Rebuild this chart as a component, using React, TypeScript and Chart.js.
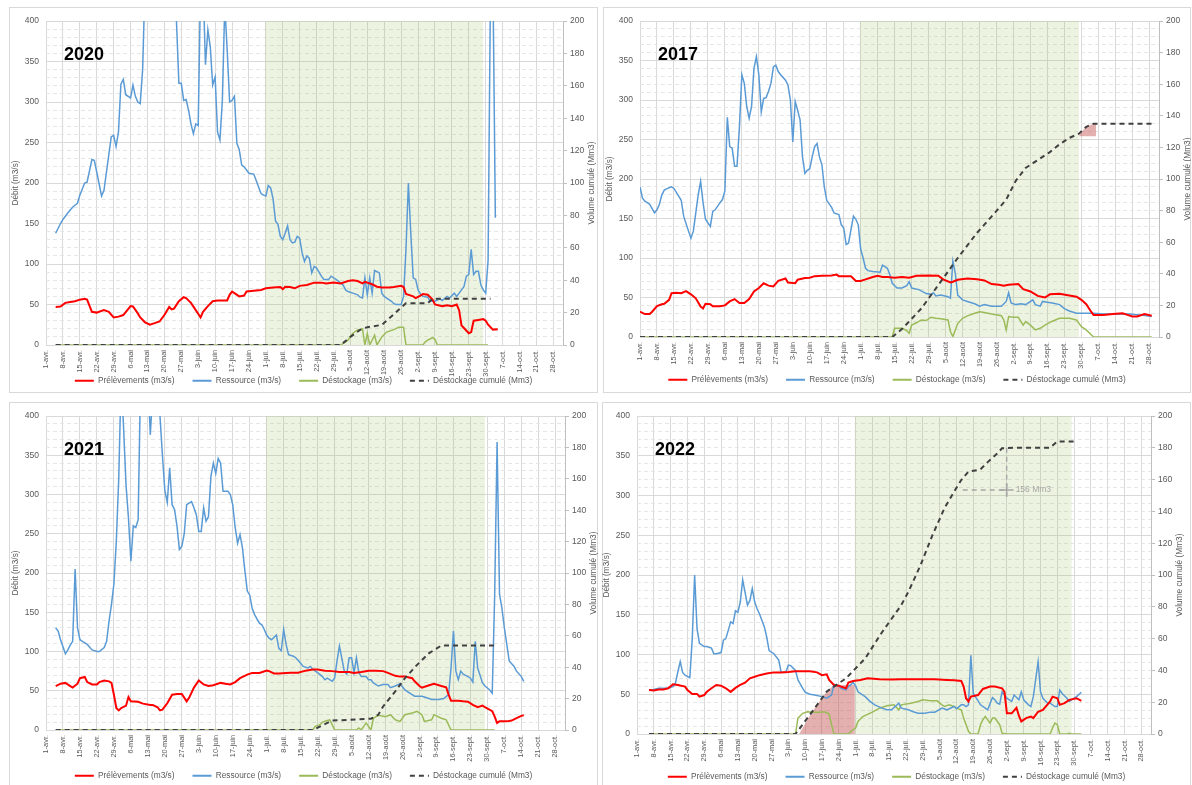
import React, { useEffect, useRef } from 'react';
import { Chart, registerables } from 'chart.js';

Chart.register(...registerables);

type P = [number, number][];

// ---------- axis ticks ----------
const tickDays = [0, 7, 14, 21, 28, 35, 42, 49, 56, 63, 70, 77, 84, 91, 98, 105, 112, 119, 126, 133, 140, 147, 154, 161, 168, 175, 182, 189, 196, 203, 210];
const tickLabels = ['1-avr.', '8-avr.', '15-avr.', '22-avr.', '29-avr.', '6-mai', '13-mai', '20-mai', '27-mai', '3-juin', '10-juin', '17-juin', '24-juin', '1-juil.', '8-juil.', '15-juil.', '22-juil.', '29-juil.', '5-août', '12-août', '19-août', '26-août', '2-sept.', '9-sept.', '16-sept.', '23-sept.', '30-sept.', '7-oct.', '14-oct.', '21-oct.', '28-oct.'];
const debitTicks = [0, 10, 20, 30, 40, 50, 60, 70, 80, 90, 100, 110, 120, 130, 140, 150, 160, 170, 180, 190, 200, 210, 220, 230, 240, 250, 260, 270, 280, 290, 300, 310, 320, 330, 340, 350, 360, 370, 380, 390, 400];
const seriesNames = ['Prélèvements (m3/s)', 'Ressource (m3/s)', 'Déstockage (m3/s)', 'Déstockage cumulé (Mm3)'];

// ---------- 2020 ----------
const prel2020: P = [[4,47],[6,47.5],[8,52],[10,53],[12,54],[14,56],[16,57],[17,56],[19,41],[21,40],[22,41],[24,43],[26,41],[28,34],[30,35],[32,37],[35,48],[36,47.5],[38,39],[39,34],[41,28],[43,25],[45,27],[47,29],[49,37],[51,47],[52,44],[53,45],[55,54],[57,59],[58,58],[60,52],[62,43],[64,34],[65,41],[67,48],[69,54],[71,55],[75,55],[76,62],[77,66],[78,64],[80,60],[82,61],[83,66],[86,67],[89,68],[91,70],[94,71],[97,71.5],[98,69],[99,72],[101,71.5],[103,70],[105,73],[108,74],[111,77],[114,77],[116,76],[119,77],[122,76],[125,79],[127,80],[129,79],[131,76],[132,78],[135,75],[137,72],[139,71],[142,71],[144,71.5],[147,73],[148,71.5],[149,63],[152,60],[153,58],[155,61],[156,63],[158,62],[160,56],[161,50],[164,48],[166,49],[168,48],[170,50],[171,43],[172,24],[173,21],[175,14.5],[176,16],[177,30],[179,31],[181,32],[182,30],[183,25],[185,19],[187,19.5]];
const res2020: P = [[4,138],[6,150],[7,155],[9,163],[11,170],[13,175],[14,185],[16,200],[17,201],[19,229],[20,228],[23,184],[24,191],[27,257],[28,259],[29,245],[30,263],[31,322],[32,328],[33,309],[35,305],[36,321],[37,307],[38,300],[39,298],[40,340],[41,450],[45,480],[50,470],[53,440],[54,400],[55,323],[56,323],[57,302],[58,303],[59,290],[60,273],[61,261],[62,273],[63,271],[64,450],[65,450],[66,346],[67,389],[68,368],[69,321],[70,331],[71,263],[72,253],[73,302],[74,420],[75,364],[76,300],[77,302],[78,307],[79,249],[80,241],[81,222],[82,220],[84,212],[86,211],[87,203],[89,187],[90,185],[91,184],[92,197],[93,194],[94,180],[95,153],[96,149],[97,134],[98,130],[99,138],[100,147],[101,130],[102,126],[103,127],[104,134],[105,132],[106,114],[107,103],[108,110],[109,107],[110,89],[111,97],[112,95],[114,85],[115,81],[117,81],[118,85],[120,81],[121,79],[123,74],[124,68],[125,66],[127,64],[129,62],[130,59],[131,58],[132,83],[133,62],[134,83],[135,64],[136,92],[138,89],[139,64],[140,60],[141,58],[143,54],[144,51],[145,50],[147,50],[148,60],[149,118],[150,200],[151,138],[152,83],[153,81],[154,68],[155,63],[156,60],[158,59],[159,54],[161,54],[163,57],[164,55],[166,60],[167,58],[169,64],[170,60],[171,64],[173,72],[174,85],[175,87],[176,118],[177,87],[178,91],[179,91],[180,74],[181,68],[182,64],[183,105],[184,450],[185,450],[186,157]];
const dest2020: P = [[4,0],[122,0],[125,6],[127,14.5],[129,18.6],[131,20],[132,0],[133,14],[134,0],[136,12],[137,0],[139,10],[141,16],[144,19],[146,22],[148,22],[149,0],[156,0],[157,4],[158,6],[160,9],[161,7],[162,0],[183,0]];
const cum2020: P = [[4,0],[122,0],[126,5],[130,9.3],[133,11],[139,12.4],[146,21.7],[149,25.8],[158,25.8],[160,28.5],[184,28.5]];
const shade2020 = [90.7, 181];

// ---------- 2017 ----------
const prel2017: P = [[0,32],[2,29],[4,29],[5,32],[7,39],[9,41.5],[10,42],[12,47],[13,55.5],[15,56],[17,55.5],[19,58],[21,54],[23,49],[25,38.5],[26,36],[27,42],[29,41.5],[30,39],[33,39],[35,40],[37,45],[39,48],[41,43],[43,43],[45,48],[47,57.6],[49,62],[51,68],[53,65],[55,64],[57,71],[60,74],[61,69],[64,68],[65,72.5],[68,74.6],[70,75],[72,77],[75,77.5],[79,78],[81,79],[82,77],[85,77],[87,77],[89,71],[91,71],[93,73],[96,76],[98,77.5],[100,76],[102,76],[105,75],[108,76],[111,75],[114,77.5],[119,78],[123,77.5],[125,73],[128,69],[129,70],[131,72.5],[135,74],[139,73],[142,71.6],[145,67],[148,66],[150,65],[152,66],[156,67],[158,60.6],[161,57.6],[164,52],[167,50],[169,54],[173,54.7],[177,52.5],[180,51],[182,47],[184,41.5],[186,32],[187,28],[191,28],[195,29],[199,30],[201,28],[203,26],[205,26],[208,29],[211,27]];
const res2017: P = [[0,190],[1,176],[2,172],[3,170],[4,168],[6,157],[7,161],[8,168],[9,180],[10,186],[12,189],[13,190],[14,188],[16,178],[17,173],[18,153],[20,134],[21,125],[22,134],[23,157],[24,180],[25,197],[26,170],[27,149],[29,140],[30,159],[31,161],[33,170],[34,174],[35,185],[36,278],[37,241],[38,239],[39,216],[40,216],[41,266],[42,332],[43,321],[44,292],[45,277],[46,292],[47,340],[48,355],[49,332],[50,285],[51,302],[52,303],[53,311],[54,321],[55,342],[56,344],[57,336],[58,332],[60,325],[61,319],[62,300],[63,247],[64,298],[65,287],[66,275],[67,228],[68,207],[69,211],[70,213],[71,228],[72,241],[73,245],[74,228],[75,218],[76,190],[77,173],[79,164],[80,157],[82,155],[83,142],[84,138],[85,117],[86,119],[88,153],[89,149],[90,142],[91,111],[92,100],[93,87],[94,84],[96,83],[99,82],[100,91],[102,87],[103,79],[104,68],[106,62],[108,62],[110,65],[111,70],[112,62],[115,60],[118,55],[120,54],[121,56],[122,52],[124,53],[127,51],[128,49],[129,96],[130,81],[131,53],[133,47],[135,45],[138,42],[140,39],[142,41],[145,39],[147,39],[149,39],[151,45],[152,56],[153,43],[155,41],[157,42],[159,41],[162,47],[163,41],[165,39],[166,45],[168,44],[170,43],[173,41],[175,36],[177,33],[180,30],[182,30],[184,30],[187,30],[191,29],[195,29],[202,29],[206,28],[211,26]];
const dest2017: P = [[0,0],[104,0],[105,11],[108,11],[110,8],[111,4.7],[112,15],[114,18],[116,21.6],[118,20.8],[120,25],[122,23.7],[124,23],[127,21.6],[128,6.8],[129,0.5],[131,17],[133,23.7],[135,26.7],[138,30],[140,32],[142,31],[145,29],[149,27],[150,21.6],[151,9],[152,25.8],[154,25],[156,25],[158,15],[159,19.5],[161,15],[163,9],[165,11],[167,15],[170,20],[173,23.7],[177,23.7],[180,21.6],[182,13],[184,9],[187,0],[211,0]];
const cum2017: P = [[0,0],[104,0],[108,5],[116,18],[124,35],[131,50],[139,66],[146,78],[151,87],[155,99],[159,107],[162,110],[166,114],[169,117],[173,122],[177,126],[181,128.7],[184,133],[187,135],[212,135]];
const shade2017 = [90.7, 181];
const pink2017: P = [[181,127],[181.5,128.7],[184,133],[187,135],[188,135]];
const pinkBase2017 = 127;

// ---------- 2021 ----------
const prel2021: P = [[4,56],[6,59],[8,60],[10,56],[11,54],[13,59],[14,66],[16,67.5],[17,61],[19,58],[21,58],[22,61],[24,63],[26,62],[27,60],[28,45],[29,28],[30,25],[31,28],[33,31],[34,42],[35,36.5],[38,36],[40,33.6],[43,32],[44,32],[46,29],[47,25],[48,26],[50,34],[52,45],[54,46],[56,46],[58,36.5],[59,41],[61,54],[63,63],[65,58],[67,56],[69,57],[72,60],[74,59],[76,58],[78,61],[80,66],[83,70.5],[85,72.7],[88,72.7],[91,75.6],[92,75],[94,72],[96,72],[99,72.7],[101,73],[104,73],[107,75.6],[110,77],[112,77],[115,75.6],[118,75],[121,74],[125,74],[127,72.7],[130,74],[133,75.6],[136,75.6],[139,75],[141,72.7],[144,69],[146,68],[148,68],[151,66],[152,62],[154,56],[155,54],[158,57],[160,59],[163,56],[165,54.4],[166,45],[167,37.4],[170,37.4],[172,36.5],[174,36],[176,32],[178,29],[180,31],[181,29],[184,24],[185,17],[186,9],[187,11],[190,11],[192,12],[194,15],[196,18],[197,18.7]];
const res2021: P = [[4,130],[5,126],[6,115],[8,97],[9,102],[10,108],[11,113],[12,205],[13,130],[14,115],[15,113],[17,109],[19,102],[21,100],[22,100],[24,105],[25,113],[26,139],[27,160],[28,186],[29,241],[30,321],[31,450],[32,384],[33,312],[34,270],[35,215],[36,260],[37,258],[38,268],[39,450],[42,450],[43,376],[44,430],[46,450],[47,400],[48,350],[49,305],[50,290],[51,334],[52,287],[53,281],[54,260],[55,230],[56,234],[57,250],[58,287],[60,291],[61,283],[62,274],[63,253],[64,253],[65,283],[66,266],[67,272],[68,323],[69,340],[70,327],[71,346],[72,340],[73,304],[75,304],[76,300],[77,287],[78,258],[79,238],[80,249],[81,232],[82,203],[83,177],[84,172],[85,155],[86,147],[88,136],[89,134],[90,128],[91,121],[92,117],[93,115],[95,121],[96,104],[97,101],[98,128],[99,109],[100,96],[102,94],[103,92],[105,85],[106,81],[108,79],[109,81],[110,77],[112,73],[114,68],[115,64],[116,66],[118,62],[119,66],[120,88],[121,107],[123,75],[124,71],[125,92],[126,92],[127,73],[128,92],[129,73],[130,68],[132,68],[133,64],[134,64],[135,60],[137,56],[139,58],[141,58],[142,54],[144,56],[146,59],[148,51],[150,47],[152,43],[155,43],[157,41],[159,39],[162,39],[164,40],[166,45],[167,79],[168,126],[169,75],[170,64],[171,75],[172,71],[174,68],[175,66],[176,61],[177,113],[178,79],[180,60],[181,56],[183,51],[184,47],[185,172],[186,367],[187,173],[188,155],[189,130],[190,109],[191,88],[193,81],[194,75],[196,68],[197,62]];
const dest2021: P = [[4,0],[110,0],[111,4.7],[113,6.8],[114,10],[116,12],[117,13],[118,6.8],[119,0],[128,0],[129,2.5],[130,0],[131,4.7],[132,9],[134,0],[135,15],[137,18.7],[140,17],[142,19.5],[144,13],[146,11],[148,19.5],[151,21.7],[153,23.8],[155,19.5],[156,11],[159,13],[160,19.5],[163,15],[165,13],[167,0],[185,0]];
const cum2021: P = [[4,0],[110,0],[118,6],[134,7.2],[137,9.7],[139,15],[144,24.6],[148,33],[153,41.5],[158,49],[163,53.8],[185,53.8]];
const shade2021 = [90.7, 181];

// ---------- 2022 ----------
const prel2022: P = [[5,55.4],[7,54.6],[9,56],[11,56],[13,57.5],[15,62.5],[17,61.7],[20,59.6],[21,55.4],[23,50.4],[25,50.4],[26,47],[28,49],[29,53],[31,57.5],[33,61.7],[35,60.8],[37,57.5],[39,53],[41,58],[43,61.7],[45,64.6],[47,70],[49,72],[51,74],[54,76],[57,77.5],[60,77.5],[63,78],[66,79],[69,79],[72,79],[75,77.5],[77,74],[79,75],[80,68],[82,61.7],[84,60.8],[85,59.6],[87,57.5],[88,64.6],[90,66.7],[93,68],[96,70],[101,69],[106,68.7],[110,69],[115,69],[120,69],[124,69],[129,68],[132,67.5],[135,66.7],[136,59.6],[137,45],[138,41],[139,47],[142,49],[144,56.7],[147,59.6],[149,59.6],[152,57.5],[153,53],[154,26],[156,26],[158,33],[159,23],[160,15.8],[162,20],[164,22],[165,20],[167,28],[169,30.4],[172,41],[173,47],[175,45],[176,36.7],[178,38.8],[180,43],[183,45],[185,41.7]];
const res2022: P = [[5,55.4],[7,56],[9,57.5],[11,57.5],[13,58],[15,59.6],[16,64],[17,78],[18,91],[19,77.5],[20,74],[22,71],[23,120],[24,200],[25,132.5],[26,114],[28,110],[29,110],[31,108],[32,101],[33,101],[35,102.5],[36,118],[37,120],[39,141],[40,139],[41,155],[42,153],[43,166],[44,194],[46,162],[47,168],[48,183],[49,166],[50,157.5],[51,151],[53,135],[54,122],[55,105],[57,101],[59,93],[60,78],[62,77.5],[63,86.7],[64,86],[66,80],[67,68],[69,57.5],[70,52.5],[72,50],[74,49],[77,47],[79,45],[81,49],[82,62.5],[84,60.8],[85,57.5],[87,55.4],[88,59.6],[90,64.6],[91,60.8],[92,53],[95,47],[97,41],[99,36.7],[102,32.5],[104,30.4],[106,30.4],[109,38.8],[110,32.5],[113,30.4],[115,28],[117,26],[120,26],[122,27.5],[124,27.5],[127,32.5],[129,30.4],[132,34.6],[133,31.7],[135,36.7],[136,36.7],[137,34.6],[138,36.7],[139,99],[140,51],[142,41.7],[143,36.7],[145,32.5],[146,30.4],[148,45.8],[149,43],[150,38.8],[151,37.5],[152,53],[154,45],[155,43],[156,41],[157,49],[159,43],[160,53],[161,43],[163,36.7],[164,34.6],[165,47],[167,91],[168,53],[169,45],[171,38.8],[172,38.8],[174,34.6],[175,34.6],[176,55.4],[177,51],[179,45],[180,41],[182,45],[183,47],[185,52.5]];
const dest2022: P = [[5,0],[66,0],[67,20],[69,26],[71,28],[73,27.5],[76,27.5],[78,28],[80,25],[81,11.7],[82,0],[88,0],[89,3.3],[91,7.5],[92,15.8],[94,22],[98,27.5],[101,32.5],[104,35.4],[107,36.7],[109,30.4],[110,36.7],[114,38.8],[117,41],[119,43],[122,41.7],[125,41.7],[126,38.8],[128,34.6],[130,36.7],[132,34.6],[133,32.5],[135,30.4],[136,20],[138,3.3],[139,0],[142,0],[143,11.7],[144,18],[145,22],[147,13.7],[148,20],[149,20],[151,11.7],[152,1],[154,0],[172,0],[173,7.5],[174,13.7],[175,11.7],[176,0],[179,0],[180,1],[181,0],[185,0]];
const cum2022: P = [[5,0],[66,0],[73,14.2],[79,26.7],[87,35],[95,47.5],[102,64],[110,81],[113,89.5],[118,106],[123,125],[128,142],[132,152.4],[135,159.7],[138,165],[142,166],[143,166.5],[146,171],[150,176.5],[152,179.7],[157,180],[172,180],[175,184],[183,184]];
const shade2022 = [90.7, 181];
const pink2022: P = [[67.5,0],[73,14.2],[79,26.7],[82,30.8],[90.7,30.8]];
const pinkBase2022 = 0;
const annotH2022: P = [[135.6,153.5],[153.9,153.5]];
const annotV2022: P = [[153.9,180],[153.9,150.3]];
const annotPt2022: P = [[153.9,153.5]];
const annotText2022 = '156 Mm3';

// ---------- rendering ----------
const FONT = '"Liberation Sans", Arial, sans-serif';
const GREY_TXT = '#595959';
const toXY = (p: P) => p.map(([x, y]) => ({ x, y }));

type Panel = {
  year: string;
  prel: P; res: P; dest: P; cum: P; shade: number[];
  pink?: P; pinkBase?: number;
  annotH?: P; annotV?: P; annotPt?: P; annotText?: string;
  left: number; top: number; w: number; h: number; boxH: number;
  L: number; R: number; T: number; B: number;
};

const panels: Panel[] = [
  { year: '2020', prel: prel2020, res: res2020, dest: dest2020, cum: cum2020, shade: shade2020,
    left: 9, top: 7, w: 589, h: 388, boxH: 386, L: 46, R: 563, T: 21, B: 345 },
  { year: '2017', prel: prel2017, res: res2017, dest: dest2017, cum: cum2017, shade: shade2017, pink: pink2017, pinkBase: pinkBase2017,
    left: 603, top: 7, w: 588, h: 387, boxH: 386, L: 640, R: 1159, T: 21, B: 337 },
  { year: '2021', prel: prel2021, res: res2021, dest: dest2021, cum: cum2021, shade: shade2021,
    left: 9, top: 402, w: 589, h: 388, boxH: 392, L: 46, R: 565, T: 416, B: 730 },
  { year: '2022', prel: prel2022, res: res2022, dest: dest2022, cum: cum2022, shade: shade2022, pink: pink2022, pinkBase: pinkBase2022,
    annotH: annotH2022, annotV: annotV2022, annotPt: annotPt2022, annotText: annotText2022,
    left: 602, top: 402, w: 589, h: 389, boxH: 392, L: 637, R: 1151, T: 416, B: 734 },
];

const textPlugin = {
  id: 'panelText',
  afterDraw(chart: any, _args: any, opts: any) {
    const { ctx, chartArea, scales } = chart;
    ctx.save();
    // x tick labels (rotated)
    ctx.fillStyle = GREY_TXT;
    ctx.font = `7.4px ${FONT}`;
    ctx.textAlign = 'right';
    ctx.textBaseline = 'middle';
    tickDays.forEach((d, i) => {
      const px = scales.x.getPixelForValue(d);
      ctx.save();
      ctx.translate(px, chartArea.bottom + 5);
      ctx.rotate(-Math.PI / 2);
      ctx.fillText(tickLabels[i], 0, 0);
      ctx.restore();
    });

    // year label
    ctx.fillStyle = '#000';
    ctx.font = `bold 18px ${FONT}`;
    ctx.textAlign = 'left';
    ctx.textBaseline = 'middle';
    ctx.fillText(opts.year, chartArea.left + 18, chartArea.top + 34);

    // axis titles
    ctx.fillStyle = GREY_TXT;
    ctx.font = `8.3px ${FONT}`;
    ctx.textAlign = 'center';
    const midY = (chartArea.top + chartArea.bottom) / 2;
    ctx.save();
    ctx.translate(chartArea.left - 30, midY);
    ctx.rotate(-Math.PI / 2);
    ctx.fillText('Débit (m3/s)', 0, 0);
    ctx.restore();
    ctx.save();
    ctx.translate(chartArea.right + 29, midY);
    ctx.rotate(-Math.PI / 2);
    ctx.fillText('Volume cumulé (Mm3)', 0, 0);
    ctx.restore();

    if (opts.annotPt && opts.annotText) {
      const [ax, ay] = opts.annotPt[0];
      const px = scales.x.getPixelForValue(ax);
      const py = scales.y1.getPixelForValue(ay);
      ctx.fillStyle = '#a6a6a6';
      ctx.font = `8.5px ${FONT}`;
      ctx.textAlign = 'left';
      ctx.fillText(opts.annotText, px + 9, py);
    }
    ctx.restore();
  },
};

function buildConfig(pn: Panel): any {
  const legendFont = 8.3;
  const legendPad = 18;
  const legendH = legendFont + legendPad + 10;
  const xH = pn.h - legendH - (pn.B - pn.top);
  const base = { pointRadius: 0, pointStyle: 'line', tension: 0, fill: false };
  const datasets: any[] = [
    { ...base, label: seriesNames[0], data: toXY(pn.prel), borderColor: '#ff0000', backgroundColor: '#ff0000', borderWidth: 2, yAxisID: 'y', order: 1 },
    { ...base, label: seriesNames[1], data: toXY(pn.res), borderColor: '#5b9bd5', backgroundColor: '#5b9bd5', borderWidth: 1.5, yAxisID: 'y', order: 2 },
    { ...base, label: seriesNames[2], data: toXY(pn.dest), borderColor: '#9bbb59', backgroundColor: '#9bbb59', borderWidth: 1.5, yAxisID: 'y', order: 3 },
    { ...base, label: seriesNames[3], data: toXY(pn.cum), borderColor: '#404040', backgroundColor: '#404040', borderWidth: 2, borderDash: [5, 4], yAxisID: 'y1', order: 0 },
    { ...base, label: 'shade', data: [{ x: pn.shade[0], y: 400 }, { x: pn.shade[1], y: 400 }], borderWidth: 0, borderColor: 'rgba(0,0,0,0)', backgroundColor: 'rgba(155,187,89,0.18)', fill: 'origin', yAxisID: 'y', order: 9 },
  ];
  if (pn.pink) {
    datasets.push({ ...base, label: 'pink', data: toXY(pn.pink), borderWidth: 0, borderColor: 'rgba(0,0,0,0)', backgroundColor: 'rgba(192,80,77,0.45)', fill: { value: pn.pinkBase ?? 0 }, yAxisID: 'y1', order: 8 });
  }
  if (pn.annotH && pn.annotV && pn.annotPt) {
    datasets.push({ ...base, label: 'aH', data: toXY(pn.annotH), borderColor: '#a6a6a6', borderWidth: 1.5, borderDash: [5, 4], yAxisID: 'y1', order: 5 });
    datasets.push({ ...base, label: 'aV', data: toXY(pn.annotV), borderColor: '#a6a6a6', borderWidth: 1.5, borderDash: [5, 4], yAxisID: 'y1', order: 5 });
    datasets.push({ label: 'aP', data: toXY(pn.annotPt), showLine: false, pointStyle: 'cross', pointRadius: 7, pointBorderColor: '#a6a6a6', pointBorderWidth: 1.5, borderColor: '#a6a6a6', yAxisID: 'y1', order: 5 });
  }
  const tickFont = { family: FONT, size: 8.5 };
  return {
    type: 'line',
    data: { datasets },
    plugins: [textPlugin],
    options: {
      responsive: false,
      animation: false,
      events: [],
      layout: { padding: { top: pn.T - pn.top, left: 0, right: 0, bottom: 0 } },
      plugins: {
        tooltip: { enabled: false },
        title: { display: false },
        panelText: { year: pn.year, annotPt: pn.annotPt, annotText: pn.annotText },
        legend: {
          display: true,
          position: 'bottom',
          labels: {
            usePointStyle: true,
            pointStyleWidth: 19,
            boxHeight: legendFont,
            padding: legendPad,
            color: GREY_TXT,
            font: { family: FONT, size: legendFont },
            generateLabels: (chart: any) =>
              chart.data.datasets.slice(0, 4).map((ds: any, i: number) => ({
                text: ds.label,
                fillStyle: ds.borderColor,
                strokeStyle: ds.borderColor,
                lineWidth: 2,
                lineDash: ds.borderDash || [],
                lineCap: 'butt',
                pointStyle: 'line',
                datasetIndex: i,
                hidden: false,
                fontColor: GREY_TXT,
              })),
            sort: (a: any, b: any) => a.datasetIndex - b.datasetIndex,
          },
        },
      },
      scales: {
        x: {
          type: 'linear',
          min: 0,
          max: 214,
          afterBuildTicks: (s: any) => { s.ticks = tickDays.map((v) => ({ value: v })); },
          afterFit: (s: any) => { s.height = xH; },
          ticks: { display: false, autoSkip: false },
          grid: { color: '#d9d9d9', lineWidth: 1, drawTicks: false },
          border: { display: false },
        },
        y: {
          position: 'left',
          min: 0,
          max: 400,
          afterBuildTicks: (s: any) => { s.ticks = debitTicks.map((v) => ({ value: v })); },
          afterFit: (s: any) => { s.width = pn.L - pn.left; },
          ticks: { autoSkip: false, padding: 7, color: GREY_TXT, font: tickFont, callback: (v: any) => (Number(v) % 50 === 0 ? String(v) : '') },
          grid: { drawTicks: false, lineWidth: 1, color: (c: any) => (c.tick && c.tick.value % 50 !== 0 ? '#e6e6e6' : '#d9d9d9') },
          border: { display: false, dash: (c: any) => (c.tick && c.tick.value % 50 !== 0 ? [4, 3] : []) },
        },
        y1: {
          position: 'right',
          min: 0,
          max: 200,
          afterFit: (s: any) => { s.width = pn.left + pn.w - pn.R; },
          ticks: { stepSize: 20, padding: 3, color: GREY_TXT, font: tickFont },
          grid: { drawOnChartArea: false, drawTicks: true, tickLength: 4, tickColor: '#bfbfbf' },
          border: { display: true, color: '#bfbfbf' },
        },
      },
    },
  };
}

function ChartPanel({ pn }: { pn: Panel }) {
  const ref = useRef<HTMLCanvasElement>(null);
  useEffect(() => {
    if (!ref.current) return;
    const chart = new Chart(ref.current, buildConfig(pn));
    return () => chart.destroy();
  }, [pn]);
  return (
    <>
      <div style={{ position: 'absolute', left: pn.left, top: pn.top, width: pn.w, height: pn.boxH, border: '1px solid #d9d9d9', boxSizing: 'border-box', background: '#fff' }} />
      <canvas ref={ref} width={pn.w} height={pn.h} style={{ position: 'absolute', left: pn.left, top: pn.top, width: pn.w, height: pn.h }} />
    </>
  );
}

export default function App() {
  return (
    <div style={{ position: 'fixed', left: 0, top: 0, width: 1192, height: 785, overflow: 'hidden', background: '#fff', fontFamily: FONT }}>
      {panels.map((pn) => (
        <ChartPanel key={pn.year} pn={pn} />
      ))}
    </div>
  );
}
